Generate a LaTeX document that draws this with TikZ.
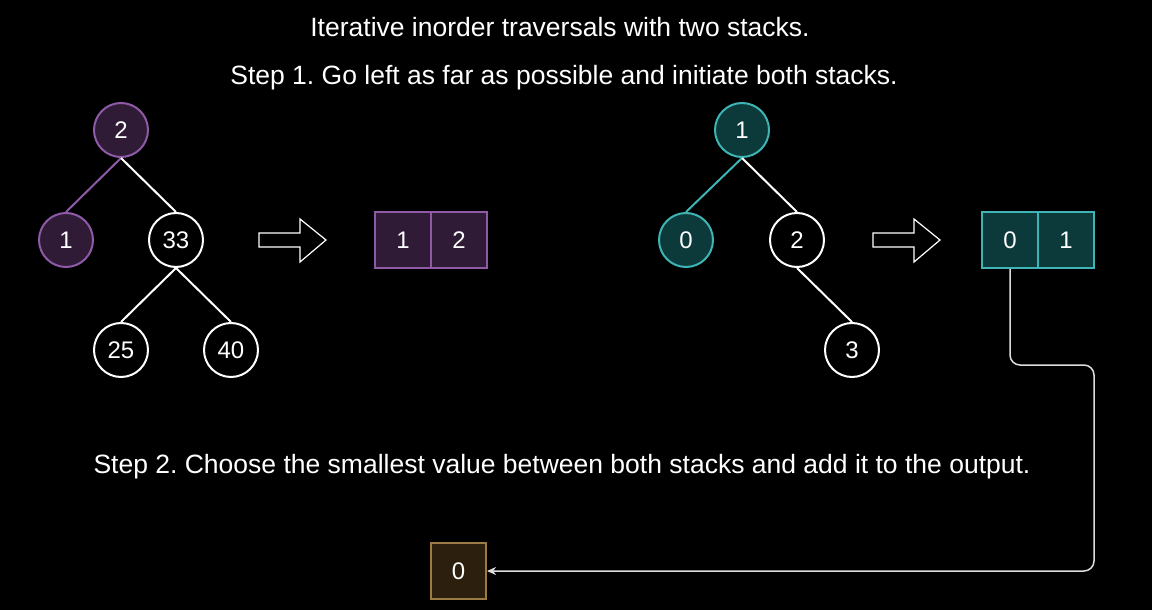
\documentclass[tikz,border=0pt]{standalone}
\usepackage{fontspec}
\setmainfont{Liberation Sans}
\usepackage{tikz}
\usetikzlibrary{positioning, arrows.meta}
\definecolor{purplefill}{RGB}{47,27,53}
\definecolor{purpledraw}{RGB}{142,90,168}
\definecolor{tealfill}{RGB}{12,58,58}
\definecolor{tealdraw}{RGB}{62,180,180}
\definecolor{brownfill}{RGB}{45,31,14}
\definecolor{browndraw}{RGB}{156,122,70}
\definecolor{linegray}{RGB}{221,221,221}
\frenchspacing

\tikzset{
	txt/.style={text=white, font=\fontsize{24}{28}\selectfont},
	headtxt/.style={text=white, font=\fontsize{26.5}{30}\selectfont},
	tnode/.style={circle, txt, draw=white, line width=2pt, minimum size=54pt, inner sep=0pt},
	pnode/.style={tnode, draw=purpledraw, fill=purplefill},
	gnode/.style={tnode, draw=tealdraw, fill=tealfill},
	cell/.style={rectangle, txt, line width=2pt, minimum width=56pt, minimum height=56pt, inner sep=0pt},
	tedge/.style={white, line width=2pt},
}

\begin{document}
\begin{tikzpicture}[x=1pt, y=-1pt, >={Stealth[length=9pt, width=8pt]}]
		
		% background and bounding box
		\fill[black] (0,0) rectangle (1152,610);
		
		% titles
		\node[headtxt] (title) at (560,27) {Iterative inorder traversals with two stacks.};
		\node[headtxt] (step1) at (564,78) {Step 1. Go left as far as possible and initiate both stacks.};
		\node[headtxt] (step2) at (562,467) {Step 2. Choose the smallest value between both stacks and add it to the output.};
		
		% first tree
		\node[pnode] (a2) at (121,130) {2};
		\node[pnode] (a1) at (66,240) {1};
		\node[tnode] (a33) at (176,240) {33};
		\node[tnode] (a25) at (121,350) {25};
		\node[tnode] (a40) at (231,350) {40};
		\draw[tedge, purpledraw] (a2.south) -- (a1.north);
		\draw[tedge] (a2.south) -- (a33.north);
		\draw[tedge] (a33.south) -- (a25.north);
		\draw[tedge] (a33.south) -- (a40.north);
		
		% second tree
		\node[gnode] (b1) at (742,130) {1};
		\node[gnode] (b0) at (686,240) {0};
		\node[tnode] (b2) at (797,240) {2};
		\node[tnode] (b3) at (852,350) {3};
		\draw[tedge, tealdraw] (b1.south) -- (b0.north);
		\draw[tedge] (b1.south) -- (b2.north);
		\draw[tedge] (b2.south) -- (b3.north);
		
		% block arrows
		\foreach \ax in {259, 873}
			\draw[white, line width=1.2pt] (\ax,233) -- ++(41,0) -- ++(0,-14) -- ++(26,21) -- ++(-26,22) -- ++(0,-15) -- ++(-41,0) -- cycle;
		
		% the two stacks
		\node[cell, draw=purpledraw, fill=purplefill] (s1) at (403,240) {1};
		\node[cell, draw=purpledraw, fill=purplefill] (s2) at (459,240) {2};
		\node[cell, draw=tealdraw, fill=tealfill] (r0) at (1010,240) {0};
		\node[cell, draw=tealdraw, fill=tealfill] (r1) at (1066,240) {1};
		
		% output
		\node[cell, draw=browndraw, fill=brownfill, minimum width=55pt] (out0) at (458.5,571) {0};
		
		% move smallest value to the output
		\coordinate (turn) at (1094,365);
		\draw[->, linegray, line width=1.5pt, rounded corners=10pt] (r0.south) |- (turn) |- (out0.east);
	\end{tikzpicture}
\end{document}
